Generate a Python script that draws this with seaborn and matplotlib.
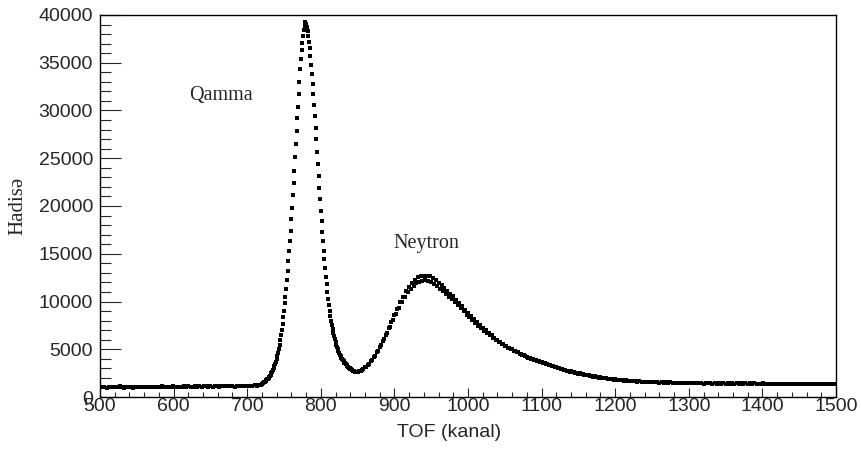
import numpy as np
import pandas as pd
import matplotlib
matplotlib.use("Agg")
import matplotlib.pyplot as plt
import seaborn as sns
from matplotlib.ticker import MultipleLocator

# TOF spektri (kanal -> hadise sayi), qrafikden oxunub
baseline_start, baseline_step = 500, 3
baseline_counts = [1080, 1020, 1060, 990, 1040, 1010, 1070, 1000, 1050, 1120, 1030, 990, 1060, 1010,
                   1040, 980, 1030, 1070, 1010, 1050, 1000, 1060, 1090, 1030, 1070, 1020, 1080, 1040,
                   1100, 1050, 1020, 1080, 1060, 1110, 1040, 1090, 1070, 1030, 1100, 1060, 1120, 1080,
                   1050, 1110, 1090, 1140, 1070, 1120, 1100, 1060, 1130, 1090, 1150, 1110, 1080, 1140,
                   1120, 1170, 1100, 1150, 1130, 1090, 1160, 1140, 1190, 1120, 1170, 1150, 1200, 1160,
                   1220, 1190, 1250, 1300]

gamma_start, gamma_step = 720, 1
gamma_counts = [1350, 1420, 1500, 1560, 1620, 1680, 1760, 1850, 1930, 2020, 2120, 2230, 2350, 2480,
                2630, 2800, 2990, 3200, 3430, 3680, 3950, 4280, 4640, 5020, 5450, 5950, 6450, 7000,
                7650, 8350, 9050, 9800, 10500, 11300, 12200, 13200, 14200, 15300, 16300, 17400, 18600,
                19800, 21100, 22400, 23700, 25100, 26500, 27900, 29200, 30400, 31700, 33000, 34300,
                35400, 36300, 37100, 37800, 38400, 38900, 39300, 39100, 38700, 38300, 37800, 37200,
                36500, 35700, 34800, 33800, 32800, 31700, 30600, 29400, 28200, 27000, 25700, 24400,
                23100, 21900, 20700, 19500, 18400, 17300, 16300, 15300, 14400, 13500, 12600, 11800,
                11000, 10300, 9650, 9050, 8500, 8000, 7550, 7150, 6750, 6400, 6050, 5750, 5480, 5220,
                4990, 4780, 4590, 4420, 4260, 4110, 3970, 3840, 3720, 3610, 3510, 3410, 3320, 3230,
                3150, 3070, 3000, 2940, 2880, 2830, 2780, 2740, 2700, 2670, 2650, 2640, 2630, 2640]

neutron_start, neutron_step = 852, 2
neutron_counts = [2700, 2690, 2860, 2880, 3090, 3130, 3380, 3460, 3760, 3850, 4200, 4330, 4710, 4850,
                  5280, 5430, 5890, 6050, 6530, 6700, 7200, 7360, 7880, 8030, 8580, 8690, 9250, 9330,
                  9900, 9930, 10500, 10450, 11060, 10950, 11560, 11330, 11950, 11640, 12300, 11900,
                  12520, 12050, 12650, 12150, 12700, 12200, 12720, 12130, 12620, 12030, 12480, 11850,
                  12270, 11620, 11980, 11330, 11720, 11050, 11420, 10760, 11120, 10480, 10830, 10210,
                  10540, 9900, 10200, 9600, 9860, 9280, 9500, 8960, 9150, 8630, 8800, 8330, 8460, 8030,
                  8120, 7740, 7810, 7460, 7510, 7200, 7240, 6950, 6980, 6700, 6710, 6450, 6450, 6220,
                  6210, 6000, 5990, 5790, 5760, 5570, 5550, 5370, 5350, 5170, 5160, 4990, 4990, 4830,
                  4830, 4680, 4670, 4520, 4530, 4390, 4380, 4250, 4240, 4120, 4120, 4000, 4000, 3880,
                  3880, 3760, 3760, 3640, 3640, 3520, 3530, 3420, 3430, 3320, 3330, 3220, 3230, 3120,
                  3130, 3020, 3030, 2930, 2940, 2840, 2850, 2750, 2770, 2670, 2690, 2590, 2610, 2510,
                  2530, 2440, 2470, 2380, 2410, 2320, 2350, 2260, 2290, 2200, 2230, 2140, 2170, 2080,
                  2120, 2030, 2070, 1980, 2020, 1940, 1980, 1890, 1930, 1850, 1890, 1810, 1850]

tail_start, tail_step = 1203, 3
tail_counts = [1830, 1760, 1790, 1720, 1750, 1690, 1710, 1650, 1680, 1620, 1650, 1580, 1610, 1560,
               1590, 1530, 1570, 1520, 1550, 1500, 1540, 1490, 1530, 1480, 1520, 1470, 1510, 1460,
               1500, 1450, 1490, 1440, 1480, 1430, 1470, 1440, 1480, 1420, 1460, 1410, 1460, 1420,
               1470, 1410, 1450, 1400, 1450, 1410, 1460, 1390, 1440, 1400, 1450, 1380, 1430, 1390,
               1440, 1380, 1430, 1370, 1420, 1380, 1430, 1360, 1410, 1370, 1420, 1350, 1400, 1370,
               1410, 1340, 1390, 1360, 1400, 1330, 1380, 1350, 1400, 1330, 1380, 1340, 1390, 1320,
               1370, 1340, 1390, 1320, 1370, 1340, 1390, 1320, 1370, 1340, 1390, 1320, 1370, 1350,
               1390, 1340]

segments = [(baseline_start, baseline_step, baseline_counts),
            (gamma_start, gamma_step, gamma_counts),
            (neutron_start, neutron_step, neutron_counts),
            (tail_start, tail_step, tail_counts)]
frames = []
for start, step, counts in segments:
    ch = start + step * np.arange(len(counts))
    frames.append(pd.DataFrame({"kanal": ch, "hadise": counts}))
df = pd.concat(frames, ignore_index=True)

sns.set_style("ticks")
plt.rcParams["font.family"] = ["Liberation Sans", "DejaVu Sans"]

fig = plt.figure(figsize=(8.62, 4.5), dpi=100)
ax = fig.add_axes([100 / 862, 1 - 397 / 450, 736 / 862, 382 / 450])

sns.scatterplot(data=df, x="kanal", y="hadise", marker="s", s=5, color="black",
                linewidth=0, ax=ax, legend=False)

ax.set_xlim(500, 1500)
ax.set_ylim(0, 40000)
ax.xaxis.set_major_locator(MultipleLocator(100))
ax.xaxis.set_minor_locator(MultipleLocator(20))
ax.yaxis.set_major_locator(MultipleLocator(5000))
ax.yaxis.set_minor_locator(MultipleLocator(1000))
ax.tick_params(axis="x", which="major", direction="in", length=6.5, width=0.8, pad=1,
               labelsize=14, top=False)
ax.tick_params(axis="x", which="minor", direction="in", length=3.5, width=0.8, top=False)
ax.tick_params(axis="y", which="major", direction="in", length=15, width=0.8, pad=5,
               labelsize=14, right=False)
ax.tick_params(axis="y", which="minor", direction="in", length=8, width=0.8, right=False)
for sp in ax.spines.values():
    sp.set_visible(True)
    sp.set_linewidth(1.0)
    sp.set_color("black")

ax.set_xlabel("TOF (kanal)", fontsize=14)
ax.xaxis.set_label_coords(0.474, -0.092)
ax.xaxis.label.set_verticalalignment("center")
ax.set_ylabel("Hadisə", fontsize=15, family=["Liberation Serif", "DejaVu Serif"])
ax.yaxis.set_label_coords(-0.111, 0.5)
ax.yaxis.label.set_verticalalignment("center")

ax.text(664, 31600, "Qamma", fontsize=14.5, family=["Liberation Serif", "DejaVu Serif"],
        ha="center", va="center")
ax.text(943, 16120, "Neytron", fontsize=14.5, family=["Liberation Serif", "DejaVu Serif"],
        ha="center", va="center")

fig.savefig("out.png", dpi=100)
